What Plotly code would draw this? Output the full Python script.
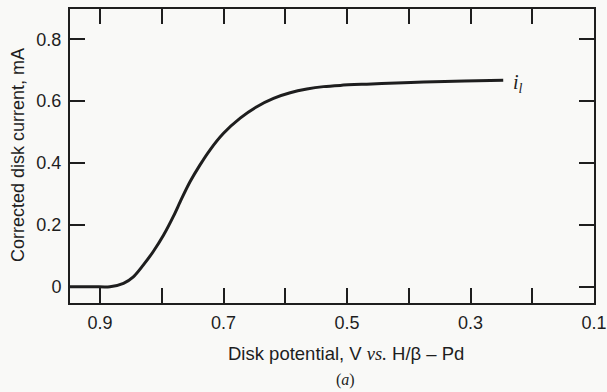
import plotly.graph_objects as go

# Data
potential_V = [0.9486, 0.91, 0.884, 0.862, 0.846, 0.830, 0.814, 0.797, 0.781, 0.768,
               0.754, 0.738, 0.722, 0.700, 0.673, 0.646, 0.619, 0.592, 0.565, 0.538,
               0.511, 0.468, 0.42, 0.376, 0.31, 0.247]
current_mA = [0.0, 0.0, 0.0, 0.011, 0.032, 0.070, 0.113, 0.167, 0.228, 0.284,
              0.340, 0.394, 0.442, 0.496, 0.545, 0.582, 0.609, 0.627, 0.639, 0.647,
              0.651, 0.655, 0.659, 0.662, 0.665, 0.668]

x_major_ticks = [0.9, 0.7, 0.5, 0.3, 0.1]
x_major_text = ["0.9", "0.7", "0.5", "0.3", "0.1"]
x_minor_ticks = [0.8, 0.6, 0.4, 0.2]
y_tick_vals = [0, 0.2, 0.4, 0.6, 0.8]
y_tick_text = ["0", "0.2", "0.4", "0.6", "0.8"]

W, H = 607, 392
PL, PR, PT, PB = 70, 594, 9, 303          # plot frame in window pixels
L, R, T, B = PL, W - PR, PT, H - PB
pw, ph = W - L - R, H - T - B

def px_x(x):
    return (x - L) / pw

def px_y(y):
    return (H - B - y) / ph

INK = "#1e1e1e"
SANS = "Liberation Sans, Arial, sans-serif"
SERIF = "Liberation Serif, Times New Roman, serif"

fig = go.Figure()
fig.add_trace(go.Scatter(
    x=potential_V, y=current_mA, mode="lines",
    line=dict(color=INK, width=3, shape="spline", smoothing=0.8),
    showlegend=False, hoverinfo="skip", cliponaxis=False))

tick_style = dict(ticks="inside", ticklen=15, tickwidth=1.5, tickcolor=INK)
axis_common = dict(
    showline=True, linecolor=INK, linewidth=2, mirror="ticks",
    showgrid=False, zeroline=False, automargin=False,
    tickfont=dict(family=SANS, size=18, color=INK), **tick_style)

fig.update_layout(
    width=W, height=H,
    margin=dict(l=L, r=R, t=T, b=B, pad=0),
    paper_bgcolor="#f9f9f7", plot_bgcolor="#f9f9f7",
    xaxis=dict(range=[0.9486, 0.1], tickmode="array", tickvals=x_major_ticks,
               ticktext=x_major_text, ticklabelstandoff=2, ticklabeloverflow="allow",
               minor=dict(tickmode="array", tickvals=x_minor_ticks, showgrid=False,
                          **tick_style),
               **axis_common),
    yaxis=dict(range=[-0.0527, 0.898], tickmode="array", tickvals=y_tick_vals,
               ticktext=y_tick_text, ticklabelstandoff=3, **axis_common),
)

ann = dict(xref="paper", yref="paper", showarrow=False,
           xanchor="center", yanchor="middle")

fig.add_annotation(
    x=px_x(18), y=px_y(155), text="Corrected disk current, mA", textangle=-90,
    font=dict(family=SANS, size=18, color=INK), **ann)

fig.add_annotation(
    x=px_x(346), y=px_y(353),
    text=f"Disk potential, V <span style='font-family:{SERIF}'><i>vs.</i></span> H/β – Pd",
    font=dict(family=SANS, size=18.5, color=INK), **ann)

fig.add_annotation(
    x=px_x(345), y=px_y(380), text="(<i>a</i>)",
    font=dict(family=SERIF, size=16, color=INK), **ann)

fig.add_annotation(
    x=px_x(518), y=px_y(84), text="<i>i</i><sub><i>l</i></sub>",
    font=dict(family=SERIF, size=20, color=INK), **ann)

fig.write_html(
    "out.html",
    config={"displayModeBar": False},
    post_script="document.body.style.margin='0px';document.body.style.overflow='hidden';")
